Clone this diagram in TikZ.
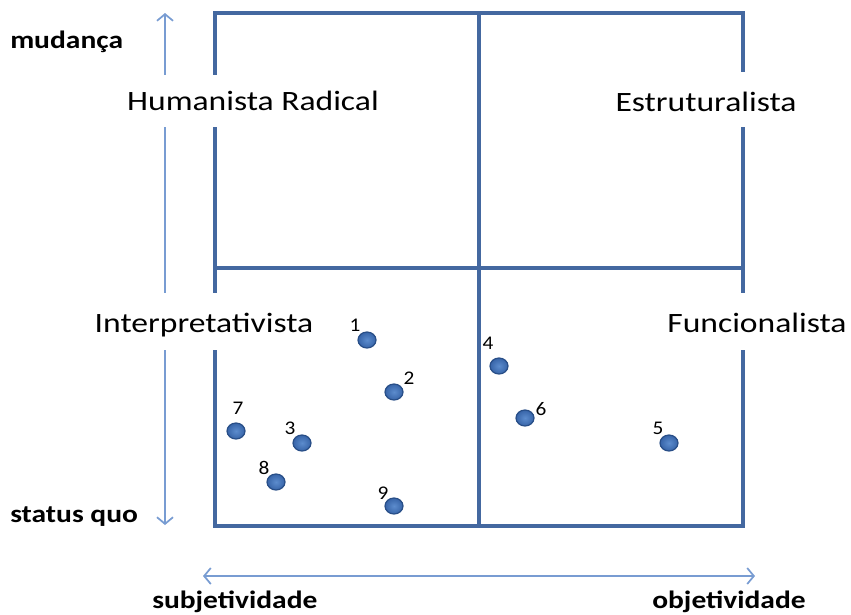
\documentclass[tikz,border=0pt]{standalone}
\usepackage{fontspec}
\setmainfont{Carlito}
\newfontfamily\quadfont[FakeStretch=1.2]{Carlito}
\newfontfamily\axisfont[FakeStretch=1.18]{Carlito}
\newfontfamily\numfont[FakeStretch=1.1]{Carlito}
\usetikzlibrary{arrows.meta,shapes.geometric}
\definecolor{frameblue}{RGB}{68,104,160}
\definecolor{axisblue}{RGB}{120,156,210}
\definecolor{dotfill}{RGB}{55,100,168}
\definecolor{dotlight}{RGB}{92,140,205}
\definecolor{dotedge}{RGB}{40,78,135}
\begin{document}
\begin{tikzpicture}[x=0.75pt,y=-0.75pt,
  frame/.style={draw=frameblue,line width=2.6pt},
  axisline/.style={draw=axisblue,line width=1.3pt,
    {Straight Barb[length=5pt,width=12pt]}-{Straight Barb[length=5pt,width=12pt]}},
  quadlabel/.style={anchor=base,inner sep=0pt,text=black,font=\quadfont\fontsize{21pt}{25pt}\selectfont},
  axislabel/.style={anchor=base west,inner sep=0pt,font=\axisfont\bfseries\fontsize{18.75pt}{22pt}\selectfont},
  dotmark/.style={ellipse,shading=radial,inner color=dotlight,outer color=dotfill,draw=dotedge,line width=0.9pt,minimum width=13.5pt,minimum height=12pt,inner sep=0pt},
  numlabel/.style={inner sep=0pt,font=\numfont\fontsize{14.5pt}{16pt}\selectfont},
  labelbg/.style={fill=white}]
\useasboundingbox (0,0) rectangle (851,615);
% frame
\coordinate (tl) at (215,13);
\coordinate (br) at (743,526);
\coordinate (mt) at (479,13);
\coordinate (mb) at (479,526);
\coordinate (ml) at (215,268);
\coordinate (mr) at (743,268);
\draw[frame] (tl) rectangle (br);
\draw[frame] (mt) -- (mb);
\draw[frame] (ml) -- (mr);
% axes
\coordinate (vt) at (165,13);
\coordinate (vb) at (165,525);
\coordinate (hl) at (203,576);
\coordinate (hr) at (755,576);
\draw[axisline] (vt) -- (vb);
\draw[axisline] (hl) -- (hr);
% label backgrounds
\fill[labelbg] (105,75) rectangle (400,127);
\fill[labelbg] (590,72) rectangle (830,127);
\fill[labelbg] (75,293) rectangle (335,350);
\fill[labelbg] (650,293) rectangle (851,350);
% quadrant labels
\node[quadlabel] (hum) at (253,110) {Humanista Radical};
\node[quadlabel] (est) at (706,111) {Estruturalista};
\node[quadlabel] (int) at (204,332) {Interpretativista};
\node[quadlabel] (fun) at (757,332) {Funcionalista};
% axis labels
\node[axislabel] (mud) at (10,48) {mudança};
\node[axislabel] (sq) at (10,522) {status quo};
\node[axislabel] (sub) at (152,608) {subjetividade};
\node[axislabel] (obj) at (652,608) {objetividade};
% dots
\node[dotmark] (d1) at (367,340) {};
\node[dotmark] (d2) at (394,392) {};
\node[dotmark] (d3) at (302,443) {};
\node[dotmark] (d4) at (499,366) {};
\node[dotmark] (d5) at (669,443) {};
\node[dotmark] (d6) at (525,418) {};
\node[dotmark] (d7) at (236,431) {};
\node[dotmark] (d8) at (276,482) {};
\node[dotmark] (d9) at (394,506) {};
\node[numlabel] (n1) at (355,325) {1};
\node[numlabel] (n2) at (409,378) {2};
\node[numlabel] (n3) at (290,428) {3};
\node[numlabel] (n4) at (488,343) {4};
\node[numlabel] (n5) at (658,428) {5};
\node[numlabel] (n6) at (541,409) {6};
\node[numlabel] (n7) at (238,408) {7};
\node[numlabel] (n8) at (264,468) {8};
\node[numlabel] (n9) at (383,493) {9};
\end{tikzpicture}
\end{document}
